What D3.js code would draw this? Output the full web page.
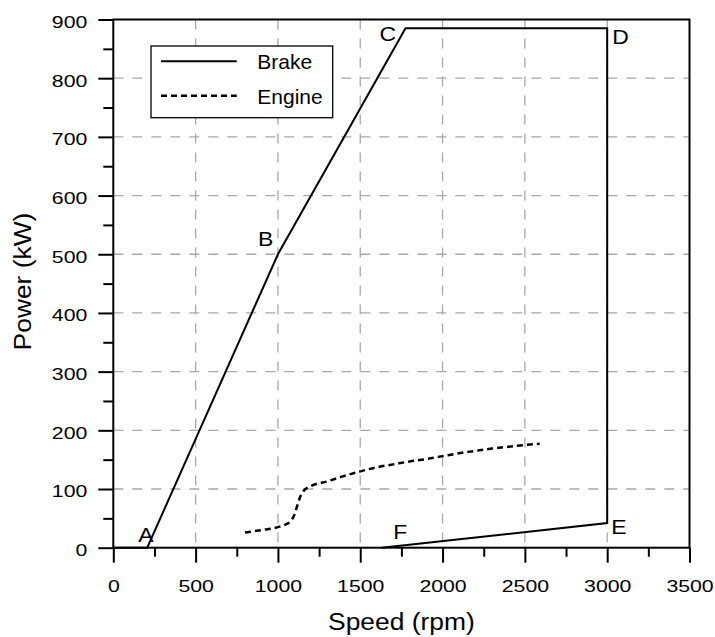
<!DOCTYPE html>
<html>
<head>
<meta charset="utf-8">
<script src="https://cdn.jsdelivr.net/npm/d3@7"></script>
<style>
  html, body { margin: 0; padding: 0; background: #fff; }
  svg { display: block; font-family: "Liberation Sans", Arial, Helvetica, sans-serif; }
</style>
</head>
<body>
<svg id="chart" width="715" height="637"></svg>
<script>
// Brake envelope: A -> B -> C -> D -> E -> F
const brakeSpeed = [0, 206, 1000, 1775, 3000, 3000, 1630];
const brakePower = [0, 0, 500, 885, 885, 42, 0];

// Engine power curve
const engineSpeed = [800, 900, 1000, 1050, 1080, 1100, 1120, 1140, 1160, 1200, 1300, 1400, 1500, 1600, 1700, 1800, 1900, 2000, 2100, 2200, 2300, 2400, 2500, 2590];
const enginePower = [26, 30, 35, 40, 46, 56, 74, 90, 98, 105, 113, 122, 130, 137, 142, 147, 151, 156, 161, 165, 169, 172, 175, 177];

// Corner labels and the index of the brake point each one marks
const pointNames = ["A", "B", "C", "D", "E", "F"];
const pointIndex = [1, 2, 3, 4, 5, 6];

const xTicks = [0, 500, 1000, 1500, 2000, 2500, 3000, 3500];
const yTicks = [0, 100, 200, 300, 400, 500, 600, 700, 800, 900];
const legendNames = ["Brake", "Engine"];

const svg = d3.select("#chart");
const plotLeft = 113.3, plotRight = 689.5, plotTop = 19.5, plotBottom = 547.7;

const x = d3.scaleLinear().domain([0, 3500]).range([plotLeft, plotRight]);
const y = d3.scaleLinear().domain([0, 900]).range([plotBottom, plotTop]);

// Dashed grey grid
const grid = svg.append("g")
  .attr("stroke", "#a8a8a8").attr("stroke-width", 1.3).attr("stroke-dasharray", "10,9");
grid.selectAll("line.v").data(xTicks.slice(1, -1)).join("line")
  .attr("class", "v")
  .attr("x1", d => x(d)).attr("x2", d => x(d))
  .attr("y1", plotTop).attr("y2", plotBottom);
grid.selectAll("line.h").data(yTicks.slice(1, -1)).join("line")
  .attr("class", "h")
  .attr("x1", plotLeft).attr("x2", plotRight)
  .attr("y1", d => y(d)).attr("y2", d => y(d));

// Series
const brake = brakeSpeed.map((s, i) => [s, brakePower[i]]);
const engine = engineSpeed.map((s, i) => [s, enginePower[i]]);

svg.append("path")
  .datum(brake)
  .attr("fill", "none").attr("stroke", "#000").attr("stroke-width", 2)
  .attr("stroke-linejoin", "miter")
  .attr("d", d3.line().x(d => x(d[0])).y(d => y(d[1])));

svg.append("path")
  .datum(engine)
  .attr("fill", "none").attr("stroke", "#000").attr("stroke-width", 2.5)
  .attr("stroke-dasharray", "6,4")
  .attr("d", d3.line().curve(d3.curveMonotoneX).x(d => x(d[0])).y(d => y(d[1])));

// Frame
svg.append("rect")
  .attr("x", plotLeft).attr("y", plotTop)
  .attr("width", plotRight - plotLeft).attr("height", plotBottom - plotTop)
  .attr("fill", "none").attr("stroke", "#000").attr("stroke-width", 2);

// Axes
const tickScale = 1.25;
const xMinor = d3.range(250, 3500, 500);
const yMinor = d3.range(50, 900, 100);

const xAxis = svg.append("g").attr("transform", `translate(0,${plotBottom})`)
  .call(d3.axisBottom(x).tickValues(xTicks).tickSize(15).tickPadding(17).tickFormat(d3.format("d")));
svg.append("g").attr("transform", `translate(0,${plotBottom})`)
  .call(d3.axisBottom(x).tickValues(xMinor).tickSize(9).tickFormat(""));

const yAxis = svg.append("g").attr("transform", `translate(${plotLeft},0)`)
  .call(d3.axisLeft(y).tickValues(yTicks).tickSize(15).tickFormat(d3.format("d")));
svg.append("g").attr("transform", `translate(${plotLeft},0)`)
  .call(d3.axisLeft(y).tickValues(yMinor).tickSize(10).tickFormat(""));

svg.selectAll(".domain").remove();
svg.selectAll(".tick line").attr("stroke", "#000").attr("stroke-width", 2);

xAxis.selectAll("text")
  .attr("font-size", 17).attr("fill", "#000")
  .attr("font-family", "Liberation Sans, Arial, sans-serif")
  .attr("transform", `scale(${tickScale},1)`);
yAxis.selectAll("text")
  .attr("font-size", 17).attr("fill", "#000")
  .attr("font-family", "Liberation Sans, Arial, sans-serif")
  .attr("x", -26 / tickScale).attr("dy", "7.8px")
  .attr("transform", `scale(${tickScale},1)`);

// Axis titles
svg.append("text")
  .attr("transform", `translate(${(plotLeft + plotRight) / 2},630) scale(1.1,1)`)
  .attr("text-anchor", "middle").attr("font-size", 24).attr("fill", "#000")
  .text("Speed (rpm)");
svg.append("text")
  .attr("transform", `translate(31,281.5) rotate(-90) scale(1.1,1)`)
  .attr("text-anchor", "middle").attr("font-size", 24).attr("fill", "#000")
  .text("Power (kW)");

// Corner labels
const labelOffset = [[-9, -6], [-20, -8.5], [-26, 12.5], [5, 16], [4, 11.3], [11.5, -8.4]];
svg.append("g").selectAll("text").data(pointNames).join("text")
  .attr("transform", (d, i) => {
    const p = brake[pointIndex[i]];
    return `translate(${x(p[0]) + labelOffset[i][0]},${y(p[1]) + labelOffset[i][1]}) scale(1.15,1)`;
  })
  .attr("font-size", 20).attr("fill", "#000")
  .text(d => d);

// Legend
const lg = svg.append("g");
lg.append("rect")
  .attr("x", 151).attr("y", 46).attr("width", 181.7).attr("height", 71.7)
  .attr("fill", "#fff").attr("stroke", "#000").attr("stroke-width", 1.3);
const rows = lg.selectAll("g.row").data(legendNames).join("g")
  .attr("class", "row")
  .attr("transform", (d, i) => `translate(0,${61.3 + i * 34.4})`);
rows.append("line")
  .attr("x1", 161).attr("x2", 236.7).attr("y1", 0).attr("y2", 0)
  .attr("stroke", "#000")
  .attr("stroke-width", (d, i) => i === 0 ? 2 : 2.5)
  .attr("stroke-dasharray", (d, i) => i === 0 ? null : "6,4");
rows.append("text")
  .attr("x", 257.3).attr("y", 8)
  .attr("font-size", 21).attr("fill", "#000")
  .text(d => d);
</script>
</body>
</html>
